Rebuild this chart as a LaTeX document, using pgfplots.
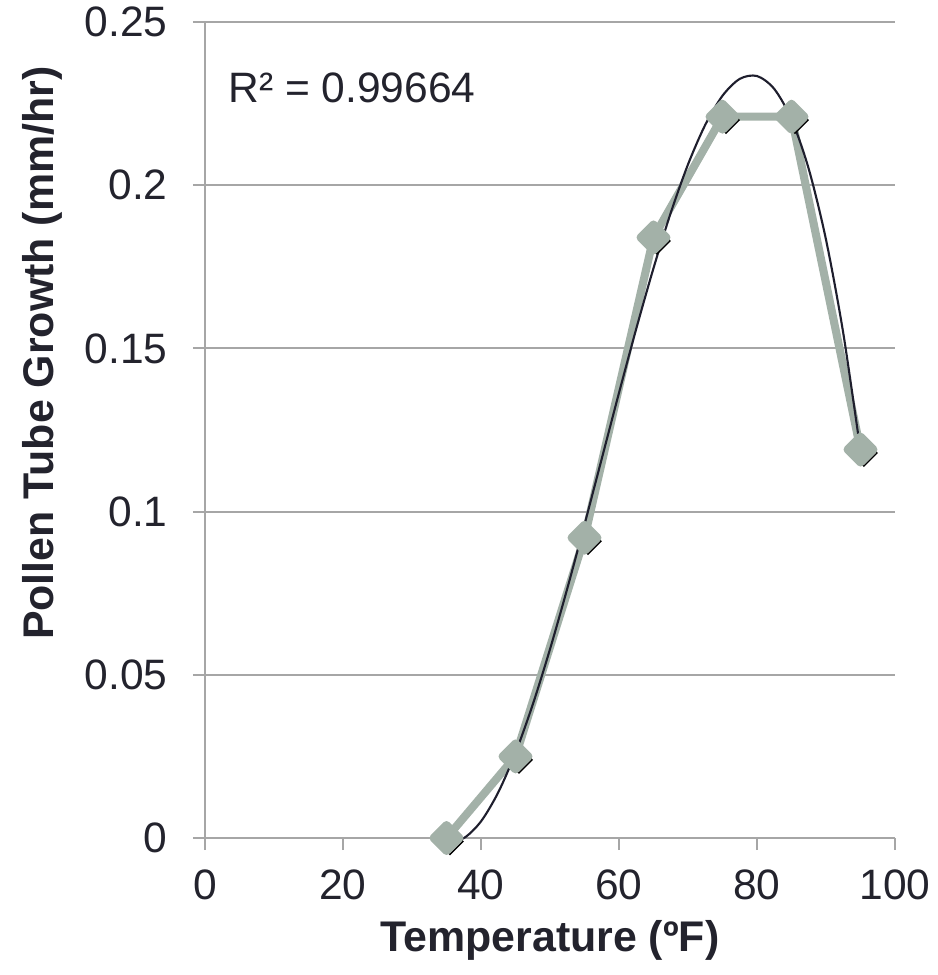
\documentclass[border=0pt]{standalone}
\usepackage{pgfplots}
\pgfplotsset{compat=1.18}
\usepackage{fontspec}
\setmainfont{Liberation Sans}
\definecolor{txt}{RGB}{35,35,45}
\definecolor{gridc}{RGB}{166,166,166}
\definecolor{ser}{RGB}{163,177,168}
\definecolor{trend}{RGB}{30,30,45}
\begin{document}
\begin{tikzpicture}
\path[use as bounding box] (-2.05,-1.37) rectangle (7.32,8.38);
\begin{axis}[
  at={(0,0)}, anchor=south west,
  scale only axis, width=6.9cm, height=8.16cm,
  xmin=0, xmax=100, ymin=0, ymax=0.25,
  axis lines=left,
  axis line style={draw=gridc, line width=0.6pt, -},
  xtick={0,20,40,60,80,100},
  ytick={0,0.05,0.1,0.15,0.2,0.25},
  yticklabels={0,0.05,0.1,0.15,0.2,0.25},
  xticklabels={0,20,40,60,80,100},
  tick align=outside,
  major tick length=0.12cm,
  tick style={draw=gridc, line width=0.6pt},
  ymajorgrids,
  grid style={draw=gridc, line width=0.6pt},
  /pgf/number format/assume math mode=true,
  tick label style={font=\fontsize{12.1}{14}\selectfont, text=txt},
  yticklabel style={xshift=-0.13cm},
  xticklabel style={yshift=-0.07cm},
  xlabel={\textbf{Temperature (ºF)}},
  ylabel={\textbf{Pollen Tube Growth (mm/hr)}},
  label style={font=\fontsize{12.2}{14}\selectfont, text=txt},
  xlabel style={at={(axis description cs:0.5,0)}, anchor=center, yshift=-1.02cm},
  ylabel style={at={(axis description cs:-0.235,0.594)}, anchor=center, rotate=0},
  clip=false,
]
% shadow of markers
\addplot[draw=none, mark=square*, mark size=2.6pt,
  mark options={rotate=45, fill=black, draw=none, fill opacity=0.3},
  xshift=0.035cm, yshift=-0.035cm] coordinates {
  (35,0) (45,0.025) (55,0.092) (65,0.184) (75,0.221) (85,0.221) (95,0.119)};
% data series
\addplot[color=ser, line width=2.3pt, line join=round, mark=square*, mark size=2.6pt,
  mark options={rotate=45, fill=ser, draw=none, solid}] coordinates {
  (35,0) (45,0.025) (55,0.092) (65,0.184) (75,0.221) (85,0.221) (95,0.119)};
% polynomial (cubic) trendline values
\addplot[color=trend, line width=0.6pt, smooth, no marks] coordinates {
  (35,-0.00088) (37.5,-0.00004) (40,0.00509) (42.5,0.01398) (45,0.02610)
  (47.5,0.04089) (50,0.05784) (52.5,0.07639) (55,0.09602) (57.5,0.11619)
  (60,0.13637) (62.5,0.15600) (65,0.17457) (67.5,0.19153) (70,0.20635)
  (72.5,0.21849) (75,0.22741) (77.5,0.23257) (80,0.23345) (82.5,0.22950)
  (85,0.22019) (87.5,0.20498) (90,0.18334) (92.5,0.15472) (95,0.11860)};
\node[anchor=west, text=txt, font=\fontsize{12.1}{14}\selectfont, inner sep=0pt]
  at (axis cs:3.3,0.2298) {R² = 0.99664};
\end{axis}
\end{tikzpicture}
\end{document}
